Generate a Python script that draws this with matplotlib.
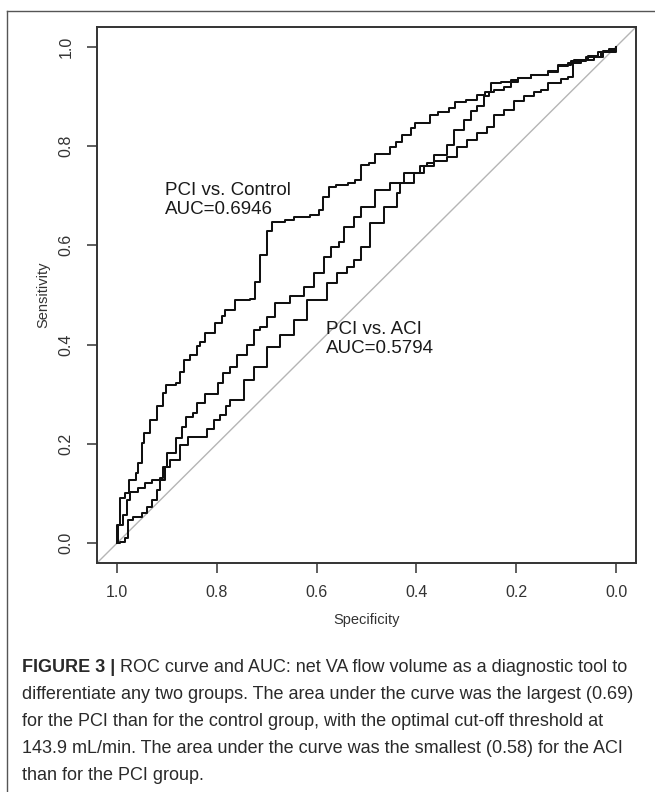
import matplotlib
matplotlib.use('Agg')
import matplotlib.pyplot as plt
from matplotlib.lines import Line2D

# ROC curves: (specificity, sensitivity)
ctrl_spec = [1.0, 0.9975, 0.993, 0.983, 0.975, 0.962, 0.958, 0.949, 0.945, 0.933, 0.920, 0.907,
             0.901, 0.882, 0.873, 0.865, 0.853, 0.840, 0.833, 0.823, 0.803, 0.790, 0.783, 0.764,
             0.733, 0.723, 0.713, 0.700, 0.690, 0.663, 0.646, 0.613, 0.596, 0.588, 0.575, 0.562,
             0.537, 0.524, 0.512, 0.495, 0.482, 0.453, 0.440, 0.428, 0.411, 0.402, 0.377, 0.373,
             0.356, 0.335, 0.322, 0.301, 0.278, 0.263, 0.251, 0.231, 0.197, 0.171, 0.137, 0.117,
             0.097, 0.084, 0.057, 0.037, 0.015, 0.0]
ctrl_sens = [0.0, 0.037, 0.091, 0.101, 0.128, 0.141, 0.161, 0.202, 0.222, 0.249, 0.276, 0.303,
             0.319, 0.322, 0.345, 0.370, 0.380, 0.397, 0.405, 0.424, 0.443, 0.457, 0.470, 0.490,
             0.491, 0.527, 0.581, 0.628, 0.648, 0.651, 0.658, 0.661, 0.671, 0.698, 0.718, 0.721,
             0.725, 0.732, 0.762, 0.765, 0.785, 0.799, 0.809, 0.822, 0.836, 0.846, 0.846, 0.862,
             0.869, 0.876, 0.889, 0.893, 0.903, 0.909, 0.927, 0.930, 0.937, 0.944, 0.950, 0.962,
             0.967, 0.974, 0.982, 0.990, 0.995, 1.0]

aci_spec = [1.0, 1.0, 0.990, 0.988, 0.980, 0.974, 0.958, 0.944, 0.930, 0.914, 0.908, 0.894,
            0.873, 0.857, 0.820, 0.806, 0.794, 0.781, 0.773, 0.746, 0.726, 0.699, 0.673, 0.646,
            0.619, 0.599, 0.579, 0.559, 0.540, 0.525, 0.512, 0.492, 0.465, 0.438, 0.432, 0.405,
            0.385, 0.365, 0.338, 0.318, 0.298, 0.278, 0.258, 0.244, 0.224, 0.204, 0.184, 0.164,
            0.151, 0.137, 0.110, 0.097, 0.087, 0.070, 0.044, 0.027, 0.0]
aci_sens = [0.0, 0.036, 0.036, 0.056, 0.087, 0.103, 0.111, 0.121, 0.127, 0.131, 0.153, 0.167,
            0.198, 0.214, 0.231, 0.249, 0.259, 0.276, 0.288, 0.329, 0.355, 0.396, 0.419, 0.450,
            0.490, 0.490, 0.524, 0.544, 0.556, 0.571, 0.597, 0.645, 0.678, 0.705, 0.725, 0.745,
            0.759, 0.769, 0.779, 0.799, 0.813, 0.826, 0.839, 0.863, 0.873, 0.890, 0.900, 0.910,
            0.913, 0.927, 0.935, 0.940, 0.967, 0.974, 0.980, 0.991, 1.0]

third_spec = [1.0, 0.994, 0.984, 0.978, 0.968, 0.950, 0.940, 0.930, 0.920, 0.914, 0.904, 0.899,
              0.882, 0.870, 0.861, 0.848, 0.840, 0.823, 0.797, 0.787, 0.773, 0.760, 0.740, 0.726,
              0.713, 0.699, 0.683, 0.653, 0.626, 0.606, 0.586, 0.572, 0.556, 0.546, 0.525, 0.512,
              0.482, 0.452, 0.425, 0.392, 0.379, 0.365, 0.338, 0.325, 0.305, 0.291, 0.278, 0.264,
              0.254, 0.244, 0.224, 0.211, 0.197, 0.171, 0.137, 0.117, 0.090, 0.060, 0.030, 0.0]
third_sens = [0.0, 0.002, 0.010, 0.046, 0.053, 0.060, 0.073, 0.087, 0.107, 0.127, 0.153, 0.182,
              0.212, 0.235, 0.255, 0.262, 0.282, 0.300, 0.322, 0.342, 0.355, 0.379, 0.399, 0.429,
              0.436, 0.456, 0.483, 0.497, 0.517, 0.544, 0.577, 0.597, 0.607, 0.638, 0.658, 0.678,
              0.712, 0.725, 0.745, 0.759, 0.765, 0.782, 0.802, 0.833, 0.853, 0.870, 0.880, 0.900,
              0.910, 0.913, 0.920, 0.933, 0.937, 0.944, 0.952, 0.964, 0.972, 0.980, 0.990, 1.0]

ticks = [1.0, 0.8, 0.6, 0.4, 0.2, 0.0]
tick_labels = ['1.0', '0.8', '0.6', '0.4', '0.2', '0.0']

caption_bold = 'FIGURE 3 |'
caption_first = ' ROC curve and AUC: net VA flow volume as a diagnostic tool to'
caption_rest = ['differentiate any two groups. The area under the curve was the largest (0.69)',
                'for the PCI than for the control group, with the optimal cut-off threshold at',
                '143.9 mL/min. The area under the curve was the smallest (0.58) for the ACI',
                'than for the PCI group.']

plt.rcParams['font.family'] = ['Liberation Sans', 'DejaVu Sans']

fig = plt.figure(figsize=(6.55, 7.92), dpi=100)
ax = fig.add_axes([97/655, 1-563/792, 539/655, 536/792])

ax.axline((1, 0), (0, 1), color='#b5b5b5', lw=1.0, zorder=1)
for sp, se in [(ctrl_spec, ctrl_sens), (aci_spec, aci_sens), (third_spec, third_sens)]:
    ax.plot(sp, se, color='#111111', lw=1.45, drawstyle='steps-post', zorder=3)

ax.set_xlim(1.04, -0.04)
ax.set_ylim(-0.04, 1.04)
ax.set_xticks(ticks)
ax.set_xticklabels(tick_labels)
ax.set_yticks(ticks)
ax.set_yticklabels(tick_labels, rotation=90, va='center')
ax.tick_params(axis='both', length=7, width=1.1, color='#333333', labelcolor='#333333',
               labelsize=11.5, direction='out')
ax.tick_params(axis='x', pad=9)
ax.tick_params(axis='y', pad=10)
for s in ax.spines.values():
    s.set_linewidth(1.4)
    s.set_color('#333333')

ax.set_xlabel('Specificity', fontsize=10.5, color='#333333', labelpad=9)
ax.set_ylabel('Sensitivity', fontsize=10.5, color='#333333', labelpad=6)

ax.text(0.904, 0.692, 'PCI vs. Control\nAUC=0.6946', fontsize=13.5, color='#1a1a1a',
        ha='left', va='center', linespacing=1.15)
ax.text(0.582, 0.411, 'PCI vs. ACI\nAUC=0.5794', fontsize=13.5, color='#1a1a1a',
        ha='left', va='center', linespacing=1.15)

# outer frame of the figure panel (top and left edges visible)
fig.add_artist(Line2D([7/655, 1.0], [1-11/792, 1-11/792], color='#555555', lw=1.0))
fig.add_artist(Line2D([7/655, 7/655], [0.0, 1-11/792], color='#555555', lw=1.0))

# caption
cap_font = dict(fontsize=13, color='#2a2a2a', family=['Liberation Sans', 'DejaVu Sans'])
y0 = 1 - 672/792
step = 27/792
tb = fig.text(22/655, y0, caption_bold, fontweight='bold', va='baseline', **cap_font)
fig.canvas.draw()
bb = tb.get_window_extent()
fig.text(bb.x1/655, y0, caption_first, va='baseline', **cap_font)
for i, line in enumerate(caption_rest):
    fig.text(22/655, y0 - (i+1)*step, line, va='baseline', **cap_font)

fig.savefig('out.png', dpi=100)
